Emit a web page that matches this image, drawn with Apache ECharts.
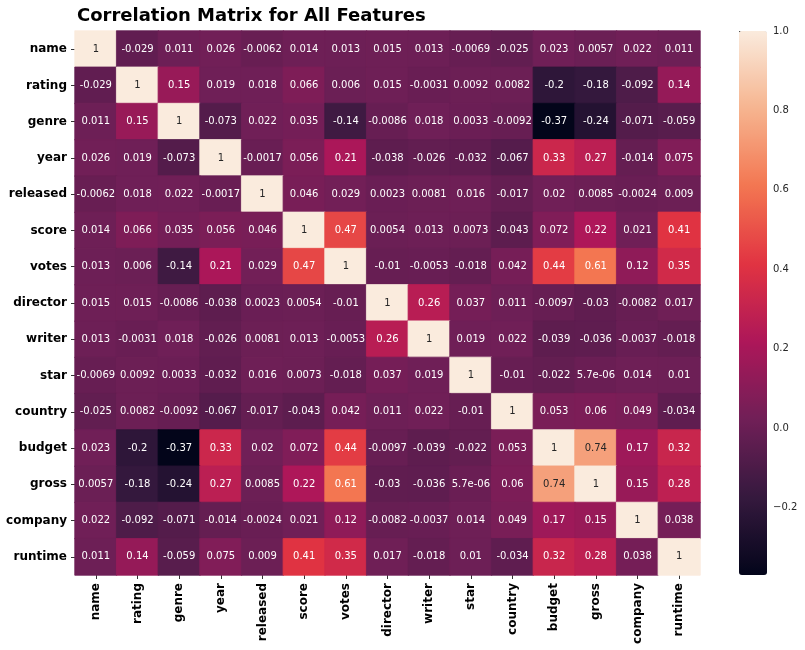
<!DOCTYPE html>
<html>
<head>
<meta charset="utf-8">
<script src="https://cdn.jsdelivr.net/npm/echarts@6/dist/echarts.min.js"></script>
<style>
  html, body { margin: 0; padding: 0; background: #fff; }
  #main { width: 805px; height: 650px; }
</style>
</head>
<body>
<div id="main"></div>
<script>
// features, same order on both axes
var features = ['name', 'rating', 'genre', 'year', 'released', 'score', 'votes', 'director',
  'writer', 'star', 'country', 'budget', 'gross', 'company', 'runtime'];

// correlation values, one row per feature
var corr = [
  [1, -0.029, 0.011, 0.026, -0.0062, 0.014, 0.013, 0.015, 0.013, -0.0069, -0.025, 0.023, 0.0057, 0.022, 0.011],
  [-0.029, 1, 0.15, 0.019, 0.018, 0.066, 0.006, 0.015, -0.0031, 0.0092, 0.0082, -0.2, -0.18, -0.092, 0.14],
  [0.011, 0.15, 1, -0.073, 0.022, 0.035, -0.14, -0.0086, 0.018, 0.0033, -0.0092, -0.37, -0.24, -0.071, -0.059],
  [0.026, 0.019, -0.073, 1, -0.0017, 0.056, 0.21, -0.038, -0.026, -0.032, -0.067, 0.33, 0.27, -0.014, 0.075],
  [-0.0062, 0.018, 0.022, -0.0017, 1, 0.046, 0.029, 0.0023, 0.0081, 0.016, -0.017, 0.02, 0.0085, -0.0024, 0.009],
  [0.014, 0.066, 0.035, 0.056, 0.046, 1, 0.47, 0.0054, 0.013, 0.0073, -0.043, 0.072, 0.22, 0.021, 0.41],
  [0.013, 0.006, -0.14, 0.21, 0.029, 0.47, 1, -0.01, -0.0053, -0.018, 0.042, 0.44, 0.61, 0.12, 0.35],
  [0.015, 0.015, -0.0086, -0.038, 0.0023, 0.0054, -0.01, 1, 0.26, 0.037, 0.011, -0.0097, -0.03, -0.0082, 0.017],
  [0.013, -0.0031, 0.018, -0.026, 0.0081, 0.013, -0.0053, 0.26, 1, 0.019, 0.022, -0.039, -0.036, -0.0037, -0.018],
  [-0.0069, 0.0092, 0.0033, -0.032, 0.016, 0.0073, -0.018, 0.037, 0.019, 1, -0.01, -0.022, 5.7e-6, 0.014, 0.01],
  [-0.025, 0.0082, -0.0092, -0.067, -0.017, -0.043, 0.042, 0.011, 0.022, -0.01, 1, 0.053, 0.06, 0.049, -0.034],
  [0.023, -0.2, -0.37, 0.33, 0.02, 0.072, 0.44, -0.0097, -0.039, -0.022, 0.053, 1, 0.74, 0.17, 0.32],
  [0.0057, -0.18, -0.24, 0.27, 0.0085, 0.22, 0.61, -0.03, -0.036, 5.7e-6, 0.06, 0.74, 1, 0.15, 0.28],
  [0.022, -0.092, -0.071, -0.014, -0.0024, 0.021, 0.12, -0.0082, -0.0037, 0.014, 0.049, 0.17, 0.15, 1, 0.038],
  [0.011, 0.14, -0.059, 0.075, 0.009, 0.41, 0.35, 0.017, -0.018, 0.01, -0.034, 0.32, 0.28, 0.038, 1]
];

// colorbar tick values
var barTicks = [-0.2, 0, 0.2, 0.4, 0.6, 0.8, 1.0];

// seaborn "rocket" colormap stops
var rocket = ['#03051a', '#35193e', '#701f57', '#ad1759', '#e13342', '#f37651', '#f6b48f', '#faebdd'];

(function () {
  var font = 'DejaVu Sans';

  // like python "{:.2g}"
  function fmt2g(v) {
    var s;
    if (v !== 0 && Math.abs(v) < 1e-4) {
      s = v.toExponential(1);
      return s.replace(/e([+-])(\d)$/, function (m, sg, d) { return 'e' + sg + '0' + d; });
    }
    s = v.toPrecision(2);
    if (s.indexOf('.') >= 0 && s.indexOf('e') < 0) {
      s = s.replace(/0+$/, '').replace(/\.$/, '');
    }
    return s;
  }

  var vmin = Infinity, vmax = -Infinity;
  corr.forEach(function (row) {
    row.forEach(function (v) {
      vmin = Math.min(vmin, v);
      vmax = Math.max(vmax, v);
    });
  });

  var data = [];
  corr.forEach(function (row, y) {
    row.forEach(function (v, x) {
      // border in the cell's own colour hides the seams between cells
      var c = echarts.color.lerp((v - vmin) / (vmax - vmin), rocket);
      data.push({
        value: [x, y, v],
        itemStyle: { borderColor: c, borderWidth: 0.8 },
        label: { color: v > 0.7 ? '#262626' : '#ffffff' }
      });
    });
  });

  var myChart = echarts.init(document.getElementById('main'));
  var option = {
    animation: false,
    backgroundColor: '#ffffff',
    title: {
      text: 'Correlation Matrix for All Features',
      left: 72,
      top: 2,
      textStyle: { fontFamily: font, fontSize: 18, fontWeight: 'bold', color: '#000' }
    },
    grid: [
      { left: 75, top: 31, width: 625, height: 544 },
      // colorbar axis
      { left: 739, top: 31, width: 28, height: 544 }
    ],
    xAxis: [{
      type: 'category',
      data: features,
      gridIndex: 0,
      axisLine: { show: false },
      axisTick: { show: true, alignWithLabel: true, length: 4, lineStyle: { color: '#333' } },
      axisLabel: {
        rotate: 90,
        margin: 8,
        fontFamily: font,
        fontSize: 12,
        fontWeight: 'bold',
        color: '#000'
      },
      splitLine: { show: false }
    }, {
      type: 'value',
      gridIndex: 1,
      show: false
    }],
    yAxis: [{
      type: 'category',
      data: features,
      inverse: true,
      gridIndex: 0,
      axisLine: { show: false },
      axisTick: { show: true, alignWithLabel: true, length: 4, lineStyle: { color: '#333' } },
      axisLabel: {
        margin: 8,
        fontFamily: font,
        fontSize: 12,
        fontWeight: 'bold',
        color: '#000'
      },
      splitLine: { show: false }
    }, {
      type: 'value',
      gridIndex: 1,
      position: 'right',
      min: vmin,
      max: vmax,
      axisLine: { show: false },
      splitLine: { show: false },
      axisTick: { show: true, length: 4, customValues: barTicks, lineStyle: { color: '#333' } },
      axisLabel: {
        customValues: barTicks,
        margin: 6,
        fontFamily: font,
        fontSize: 10,
        color: '#262626',
        formatter: function (v) {
          var s = Math.abs(v).toFixed(1);
          return (v < -1e-9 ? '\u2212' : '') + s;
        }
      }
    }],
    visualMap: {
      type: 'continuous',
      min: vmin,
      max: vmax,
      dimension: 2,
      seriesIndex: 0,
      calculable: false,
      hoverLink: false,
      orient: 'vertical',
      left: 739,
      top: 31,
      padding: 0,
      itemWidth: 28,
      itemHeight: 544,
      text: null,
      showLabel: false,
      inRange: { color: rocket }
    },
    series: [{
      type: 'heatmap',
      xAxisIndex: 0,
      yAxisIndex: 0,
      data: data,
      label: {
        show: true,
        fontFamily: font,
        fontSize: 10,
        formatter: function (p) { return fmt2g(p.value[2]); }
      },
      emphasis: { disabled: true }
    }]
  };
  myChart.setOption(option);
})();
</script>
</body>
</html>
